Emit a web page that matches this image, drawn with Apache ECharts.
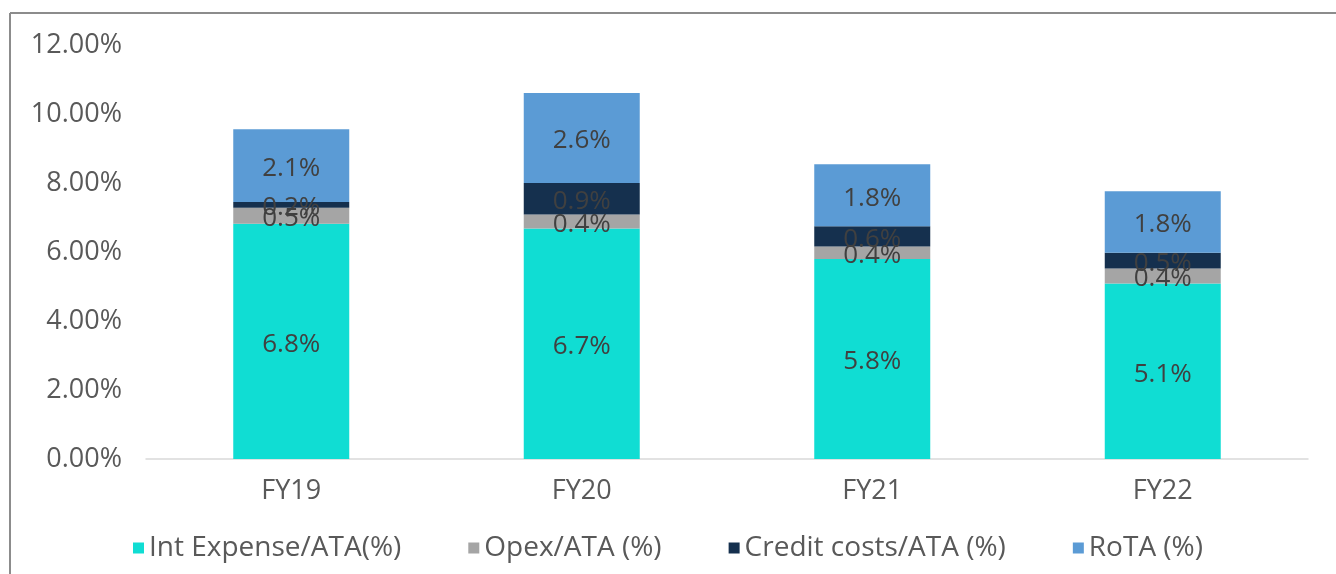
<!DOCTYPE html>
<html>
<head>
<meta charset="utf-8">
<title>Cost structure</title>
<script src="https://cdn.jsdelivr.net/npm/echarts@6/dist/echarts.min.js"></script>
<style>
    html, body { margin: 0; padding: 0; background: #fff; }
    #chart { width: 1336px; height: 574px; }
</style>
</head>
<body>
<div id="chart"></div>
<script>
// 数据
const years = ['FY19', 'FY20', 'FY21', 'FY22'];
const intExpense = [6.82, 6.68, 5.80, 5.09];
const opex = [0.46, 0.41, 0.36, 0.43];
const creditCosts = [0.17, 0.91, 0.59, 0.46];
const rota = [2.11, 2.61, 1.79, 1.78];
const seriesNames = ['Int Expense/ATA(%)', 'Opex/ATA (%)', 'Credit costs/ATA (%)', 'RoTA (%)'];
const colors = ['#10DDD3', '#A5A5A5', '#15304E', '#5B9BD5'];

const FONT = '"Open Sans", sans-serif';

function makeSeries(name, data, color) {
    return {
        name: name,
        type: 'bar',
        stack: 'total',
        barWidth: 116,
        data: data,
        itemStyle: { color: color },
        label: {
            show: true,
            position: 'inside',
            offset: [0, 3],
            color: '#404040',
            fontFamily: FONT,
            fontSize: 26,
            formatter: (p) => p.value.toFixed(1) + '%'
        }
    };
}

const chart = echarts.init(document.getElementById('chart'));

const option = {
    animation: false,
    color: colors,
    grid: {
        left: 146,
        right: 28,
        top: 45,
        bottom: 115
    },
    legend: {
        top: 529,
        left: 'center',
        icon: 'rect',
        itemWidth: 11,
        itemHeight: 11,
        itemGap: 67,
        textStyle: {
            color: '#595959',
            fontFamily: FONT,
            fontSize: 28
        },
        data: seriesNames
    },
    xAxis: {
        type: 'category',
        data: years,
        axisLine: { lineStyle: { color: '#D9D9D9', width: 1.5 } },
        axisTick: { show: false },
        axisLabel: {
            color: '#595959',
            fontFamily: FONT,
            fontSize: 27,
            margin: 19
        }
    },
    yAxis: {
        type: 'value',
        min: 0,
        max: 12,
        interval: 2,
        axisLine: { show: false },
        axisTick: { show: false },
        splitLine: { show: false },
        axisLabel: {
            color: '#595959',
            fontFamily: FONT,
            fontSize: 27,
            margin: 24,
            formatter: (v) => v.toFixed(2) + '%'
        }
    },
    graphic: [
        {
            type: 'line',
            shape: { x1: 10, y1: 13, x2: 1336, y2: 13 },
            style: { stroke: '#8C8C8C', lineWidth: 2 }
        },
        {
            type: 'line',
            shape: { x1: 10, y1: 13, x2: 10, y2: 574 },
            style: { stroke: '#8C8C8C', lineWidth: 2 }
        }
    ],
    series: [
        makeSeries(seriesNames[0], intExpense, colors[0]),
        makeSeries(seriesNames[1], opex, colors[1]),
        makeSeries(seriesNames[2], creditCosts, colors[2]),
        makeSeries(seriesNames[3], rota, colors[3])
    ]
};

chart.setOption(option);
window.addEventListener('resize', () => chart.resize());
</script>
</body>
</html>
